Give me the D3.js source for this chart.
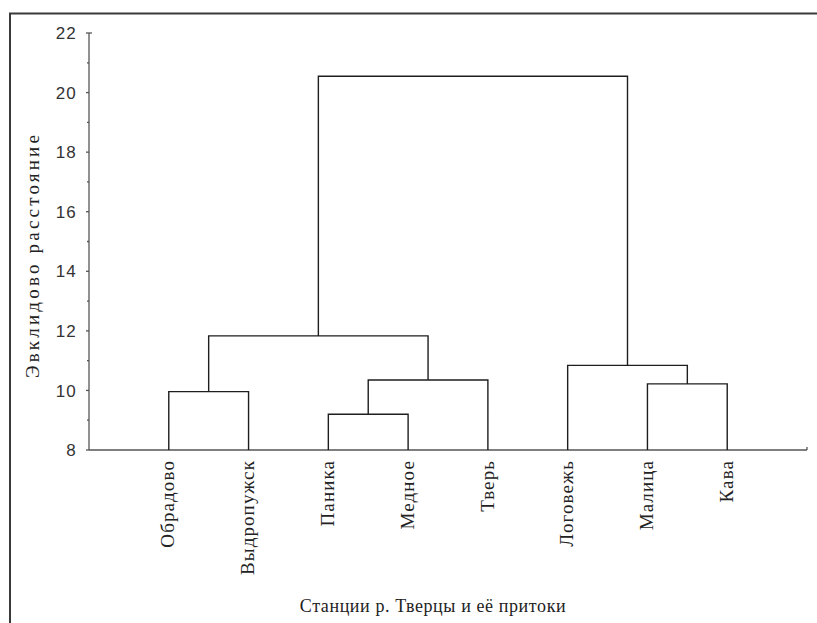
<!DOCTYPE html>
<html>
<head>
<meta charset="utf-8">
<script src="https://cdn.jsdelivr.net/npm/d3@7"></script>
<style>
  html, body { margin: 0; padding: 0; background: #fff; }
  svg { display: block; }
</style>
</head>
<body>
<svg id="chart" width="817" height="623"></svg>
<script>
// Stations (leaf order along the x axis)
const stations = ["Обрадово", "Выдропужск", "Паника", "Медное", "Тверь", "Логовежь", "Малица", "Кава"];

// Linkage: each merge joins node A and node B at a given distance.
// Ids 0..7 are stations; merge i creates node id 8 + i.
const mergeA = [2, 0, 6, 8, 5, 9, 13];
const mergeB = [3, 1, 7, 4, 10, 11, 12];
const mergeHeight = [9.20, 9.96, 10.22, 10.35, 10.84, 11.83, 20.55];

// Axis ticks
const majorTicks = [8, 10, 12, 14, 16, 18, 20, 22];
const minorTicks = [9, 11, 13, 15, 17, 19, 21];

const yTitle = "Эвклидово расстояние";
const xTitle = "Станции р. Тверцы и её притоки";

const svg = d3.select("#chart");
const plotLeft = 89, plotRight = 807, plotTop = 33, plotBottom = 450;

const x = d3.scalePoint().domain(stations).range([plotLeft, plotRight]).padding(1);
const y = d3.scaleLinear().domain([8, 22]).range([plotBottom, plotTop]);

// Outer frame
svg.append("rect")
  .attr("x", 10).attr("y", 13.5)
  .attr("width", 830).attr("height", 640)
  .attr("fill", "none").attr("stroke", "#3a3a3a").attr("stroke-width", 2);

// Node positions from the linkage
const nodeX = stations.map(s => x(s));
const nodeH = stations.map(() => 8);
const links = [];
mergeA.forEach((a, i) => {
  const b = mergeB[i], h = mergeHeight[i];
  links.push({ x1: nodeX[a], h1: nodeH[a], x2: nodeX[b], h2: nodeH[b], h });
  nodeX.push((nodeX[a] + nodeX[b]) / 2);
  nodeH.push(h);
});

// Y axis
const axisColor = "#555";
const yAxis = svg.append("g").attr("class", "y-axis");
yAxis.append("line")
  .attr("x1", plotLeft).attr("x2", plotLeft)
  .attr("y1", y(22)).attr("y2", y(8))
  .attr("stroke", axisColor).attr("stroke-width", 1.3);
yAxis.append("line")
  .attr("x1", plotLeft).attr("x2", plotLeft + 3)
  .attr("y1", y(22)).attr("y2", y(22))
  .attr("stroke", axisColor).attr("stroke-width", 1.3);
yAxis.selectAll("line.major").data(majorTicks).join("line")
  .attr("class", "major")
  .attr("x1", plotLeft - 3).attr("x2", plotLeft)
  .attr("y1", d => y(d)).attr("y2", d => y(d))
  .attr("stroke", axisColor).attr("stroke-width", 1.3);
yAxis.selectAll("line.minor").data(minorTicks).join("line")
  .attr("class", "minor")
  .attr("x1", plotLeft - 2).attr("x2", plotLeft)
  .attr("y1", d => y(d)).attr("y2", d => y(d))
  .attr("stroke", axisColor).attr("stroke-width", 1.3);
yAxis.selectAll("text").data(majorTicks).join("text")
  .attr("x", 77).attr("y", d => y(d))
  .attr("dy", "0.36em")
  .attr("text-anchor", "end")
  .attr("font-family", "Liberation Sans, sans-serif")
  .attr("font-size", 17)
  .attr("letter-spacing", 1.2)
  .attr("fill", "#333")
  .text(d => d);

// X axis line with end cap
svg.append("line")
  .attr("x1", plotLeft).attr("x2", plotRight)
  .attr("y1", plotBottom).attr("y2", plotBottom)
  .attr("stroke", axisColor).attr("stroke-width", 1.3);
svg.append("line")
  .attr("x1", plotRight).attr("x2", plotRight)
  .attr("y1", plotBottom - 3).attr("y2", plotBottom)
  .attr("stroke", axisColor).attr("stroke-width", 1.3);

// Dendrogram links
svg.append("g").selectAll("path").data(links).join("path")
  .attr("d", d => `M${d.x1},${y(d.h1)}V${y(d.h)}H${d.x2}V${y(d.h2)}`)
  .attr("fill", "none")
  .attr("stroke", "#1e1e1e")
  .attr("stroke-width", 1.4);

// Station labels
svg.append("g").selectAll("text").data(stations).join("text")
  .attr("transform", d => `translate(${x(d)},460) rotate(-90)`)
  .attr("dy", "0.3em")
  .attr("text-anchor", "end")
  .attr("font-family", "Liberation Serif, serif")
  .attr("font-size", 19)
  .attr("letter-spacing", 1.1)
  .attr("fill", "#222")
  .text(d => d);

// Axis titles
svg.append("text")
  .attr("transform", `translate(33,255) rotate(-90)`)
  .attr("dy", "0.3em")
  .attr("text-anchor", "middle")
  .attr("font-family", "Liberation Serif, serif")
  .attr("font-size", 19)
  .attr("letter-spacing", 3.2)
  .attr("fill", "#222")
  .text(yTitle);

svg.append("text")
  .attr("x", 433).attr("y", 612)
  .attr("text-anchor", "middle")
  .attr("font-family", "Liberation Serif, serif")
  .attr("font-size", 18)
  .attr("letter-spacing", 0.6)
  .attr("fill", "#222")
  .text(xTitle);
</script>
</body>
</html>
